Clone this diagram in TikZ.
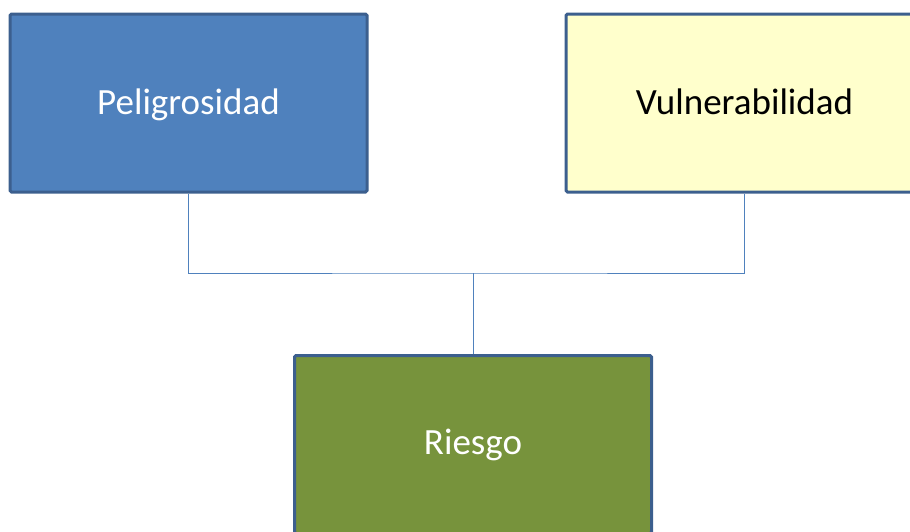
\documentclass[tikz,border=0pt]{standalone}
\usepackage{fontspec}
\setmainfont{Carlito}
\usetikzlibrary{calc}

\definecolor{boxborder}{HTML}{3C5F8E}
\definecolor{pelblue}{HTML}{4F81BD}
\definecolor{vulyellow}{HTML}{FFFFCC}
\definecolor{riegreen}{HTML}{77933C}
\definecolor{linkblue}{HTML}{4F81BD}

\begin{document}
\begin{tikzpicture}[x=1pt,y=-1pt,
    factor/.style={draw=boxborder, line width=3pt, rounded corners=1.5pt,
        minimum width=357pt, minimum height=178pt, inner sep=0pt,
        text height=30pt, text depth=8pt,
        font=\fontsize{37}{44}\selectfont},
    link/.style={draw=linkblue, line width=0.9pt}]
    \useasboundingbox (0,0) rectangle (910,531);
    \clip (0,0) rectangle (910,531);
    \node[factor, fill=pelblue, text=white] (pel) at (188.5,103) {Peligrosidad};
    \node[factor, fill=vulyellow, text=black] (vul) at (744.5,103) {Vulnerabilidad};
    \node[factor, fill=riegreen, text=white, text height=27pt] (rie) at (473,444.5) {Riesgo};
    \coordinate (join) at ($(rie.north) + (0,-81)$);
    \draw[link] (pel.south) |- (join) -| (vul.south);
    \draw[link] (join) -- (rie.north);
\end{tikzpicture}
\end{document}
